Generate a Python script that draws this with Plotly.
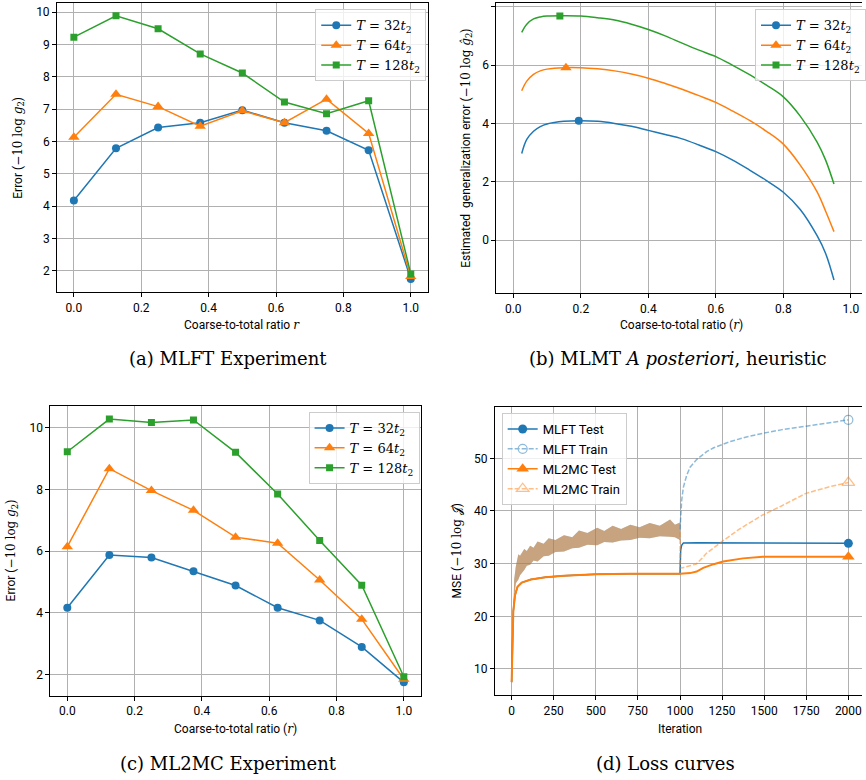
import plotly.graph_objects as go

BLUE = '#1f77b4'
ORANGE = '#ff7f0e'
GREEN = '#2ca02c'
W, H = 866, 780

# ---------------- (a) MLFT experiment ----------------
r_grid = [0.0, 0.125, 0.25, 0.375, 0.5, 0.625, 0.75, 0.875, 1.0]
mlft_32 = [4.17, 5.79, 6.43, 6.58, 6.97, 6.58, 6.33, 5.73, 1.74]
mlft_64 = [6.13, 7.46, 7.08, 6.47, 6.95, 6.58, 7.31, 6.25, 1.82]
mlft_128 = [9.23, 9.89, 9.49, 8.71, 8.12, 7.22, 6.86, 7.26, 1.90]

# ---------------- (b) MLMT a posteriori heuristic ----------------
r_est = [0.025, 0.04, 0.06, 0.08, 0.1, 0.15, 0.2, 0.25, 0.3, 0.35, 0.4, 0.45, 0.5,
         0.55, 0.6, 0.65, 0.7, 0.75, 0.8, 0.85, 0.9, 0.925, 0.95]
est_32 = [2.97, 3.45, 3.73, 3.89, 3.98, 4.07, 4.09, 4.07, 4.00, 3.90, 3.76, 3.62, 3.47,
          3.26, 3.03, 2.74, 2.40, 2.04, 1.64, 1.05, 0.15, -0.45, -1.37]
est_64 = [5.12, 5.45, 5.68, 5.80, 5.86, 5.91, 5.91, 5.87, 5.80, 5.69, 5.55, 5.37, 5.17,
          4.95, 4.72, 4.42, 4.10, 3.73, 3.29, 2.57, 1.65, 1.00, 0.29]
est_128 = [7.12, 7.40, 7.58, 7.65, 7.68, 7.69, 7.68, 7.62, 7.54, 7.40, 7.22, 7.00, 6.75,
           6.51, 6.29, 5.99, 5.67, 5.31, 4.91, 4.25, 3.36, 2.75, 1.92]
peak_r = [0.194, 0.156, 0.138]
peak_v = [4.09, 5.91, 7.68]

# ---------------- (c) ML2MC experiment ----------------
ml2mc_32 = [4.16, 5.87, 5.79, 5.34, 4.88, 4.16, 3.75, 2.89, 1.74]
ml2mc_64 = [6.14, 8.67, 7.96, 7.32, 6.45, 6.25, 5.06, 3.79, 1.84]
ml2mc_128 = [9.22, 10.28, 10.17, 10.25, 9.20, 7.85, 6.34, 4.89, 1.92]

# ---------------- (d) loss curves ----------------
it_test_a = [0, 5, 10, 20, 35, 60, 114, 200, 311, 500, 704, 1000]
test_a = [7.5, 16.0, 21.0, 24.0, 25.6, 26.4, 27.0, 27.4, 27.7, 28.0, 28.1, 28.1]
it_mlft_test_b = [1000, 1001, 1004, 1010, 1020, 1100, 1500, 2000]
mlft_test_b = [28.1, 30.5, 32.5, 33.5, 33.9, 33.95, 33.9, 33.86]
it_ml2mc_test_b = [1000, 1060, 1099, 1138, 1200, 1256, 1374, 1492, 1750, 2000]
ml2mc_test_b = [28.1, 28.2, 28.5, 29.2, 29.9, 30.4, 31.0, 31.3, 31.3, 31.3]

it_band = [0, 8, 15, 25, 40, 50, 75, 90, 110, 130, 154, 190, 220, 260, 311, 360, 400,
           450, 508, 550, 600, 650, 705, 760, 820, 880, 941, 970, 1000]
band_hi = [7.5, 22.0, 27.0, 29.5, 31.8, 31.5, 32.8, 32.4, 33.4, 33.0, 34.2, 33.8, 34.8,
           34.5, 35.4, 35.0, 36.3, 35.8, 36.8, 36.2, 37.2, 36.6, 37.4, 36.9, 37.7,
           37.2, 38.4, 37.4, 37.8]
band_lo = [7.5, 18.0, 23.5, 26.3, 27.0, 27.8, 28.8, 29.6, 29.8, 30.6, 30.4, 31.4, 31.5,
           32.2, 32.3, 32.9, 33.0, 33.6, 33.5, 34.1, 34.0, 34.4, 34.5, 34.9, 34.8,
           35.2, 35.1, 35.0, 34.5]

it_mlft_train = [1000, 1005, 1010, 1020, 1040, 1060, 1100, 1160, 1200, 1300, 1400,
                 1500, 1600, 1750, 1900, 2000]
mlft_train = [36.5, 39.0, 42.0, 44.5, 46.8, 48.3, 49.8, 51.3, 52.0, 53.2, 54.1,
              54.8, 55.4, 56.1, 56.9, 57.3]
it_ml2mc_train = [1000, 1001, 1018, 1050, 1097, 1130, 1157, 1200, 1235, 1350, 1491,
                  1600, 1748, 1900, 2000]
ml2mc_train = [36.0, 29.2, 29.24, 29.5, 29.94, 31.0, 31.96, 33.0, 33.86, 36.5,
               39.24, 40.9, 43.35, 44.7, 45.4]

SERIF = 'DejaVu Serif'
SANS = 'Roboto'


def math(s):
    return f"<span style='font-family:{SERIF}'>{s}</span>"


def tlabel(n):
    return f"<i>T</i> = {n}<i>t</i><sub>2</sub>"


MSIZE = {'circle': 8, 'triangle-up': 10, 'square': 7}

fig = go.Figure()

# (a)
for vals, col, sym, n in [(mlft_32, BLUE, 'circle', 32), (mlft_64, ORANGE, 'triangle-up', 64),
                          (mlft_128, GREEN, 'square', 128)]:
    fig.add_trace(go.Scatter(x=r_grid, y=vals, mode='lines+markers', xaxis='x', yaxis='y',
                             line=dict(color=col, width=1.5),
                             marker=dict(symbol=sym, size=MSIZE[sym], color=col),
                             name=tlabel(n), legend='legend'))

# (b)
for vals, col, sym, n, pr, pv in [(est_32, BLUE, 'circle', 32, peak_r[0], peak_v[0]),
                                  (est_64, ORANGE, 'triangle-up', 64, peak_r[1], peak_v[1]),
                                  (est_128, GREEN, 'square', 128, peak_r[2], peak_v[2])]:
    fig.add_trace(go.Scatter(x=r_est, y=vals, mode='lines', xaxis='x2', yaxis='y2',
                             line=dict(color=col, width=1.5, shape='spline', smoothing=1.0),
                             showlegend=False, legend='legend2'))
    fig.add_trace(go.Scatter(x=[pr], y=[pv], mode='lines+markers', xaxis='x2', yaxis='y2',
                             line=dict(color=col, width=1.5),
                             marker=dict(symbol=sym, size=MSIZE[sym], color=col),
                             name=tlabel(n), legend='legend2'))

# (c)
for vals, col, sym, n in [(ml2mc_32, BLUE, 'circle', 32), (ml2mc_64, ORANGE, 'triangle-up', 64),
                          (ml2mc_128, GREEN, 'square', 128)]:
    fig.add_trace(go.Scatter(x=r_grid, y=vals, mode='lines+markers', xaxis='x3', yaxis='y3',
                             line=dict(color=col, width=1.5),
                             marker=dict(symbol=sym, size=MSIZE[sym], color=col),
                             name=tlabel(n), legend='legend3'))


# (d)
def band_poly(xs, hi, lo):
    return list(xs) + list(xs)[::-1], list(hi) + list(lo)[::-1]


bx, by = band_poly(it_band, band_hi, band_lo)
# MLFT test
fig.add_trace(go.Scatter(x=it_test_a + it_mlft_test_b, y=test_a + mlft_test_b, mode='lines',
                         xaxis='x4', yaxis='y4', line=dict(color=BLUE, width=1.5),
                         showlegend=False, legend='legend4'))
fig.add_trace(go.Scatter(x=[it_mlft_test_b[-1]], y=[mlft_test_b[-1]], mode='lines+markers',
                         xaxis='x4', yaxis='y4', line=dict(color=BLUE, width=1.5),
                         marker=dict(symbol='circle', size=9, color=BLUE),
                         name='MLFT Test', legend='legend4'))
# MLFT train
fig.add_trace(go.Scatter(x=bx, y=by, fill='toself', mode='lines', xaxis='x4', yaxis='y4',
                         fillcolor='rgba(31,119,180,0.45)', line=dict(width=0),
                         showlegend=False, legend='legend4', hoverinfo='skip'))
fig.add_trace(go.Scatter(x=it_mlft_train, y=mlft_train, mode='lines', xaxis='x4', yaxis='y4',
                         line=dict(color=BLUE, width=1.5, dash='5px,2px'), opacity=0.5,
                         showlegend=False, legend='legend4'))
fig.add_trace(go.Scatter(x=[it_mlft_train[-1]], y=[mlft_train[-1]], mode='lines+markers',
                         xaxis='x4', yaxis='y4', opacity=0.5,
                         line=dict(color=BLUE, width=1.5, dash='5px,2px'),
                         marker=dict(symbol='circle-open', size=9, color=BLUE, line=dict(width=1.2)),
                         name='MLFT Train', legend='legend4'))
# ML2MC test
fig.add_trace(go.Scatter(x=it_test_a + it_ml2mc_test_b, y=test_a + ml2mc_test_b, mode='lines',
                         xaxis='x4', yaxis='y4', line=dict(color=ORANGE, width=2),
                         showlegend=False, legend='legend4'))
fig.add_trace(go.Scatter(x=[it_ml2mc_test_b[-1]], y=[ml2mc_test_b[-1]], mode='lines+markers',
                         xaxis='x4', yaxis='y4', line=dict(color=ORANGE, width=1.5),
                         marker=dict(symbol='triangle-up', size=11, color=ORANGE),
                         name='ML2MC Test', legend='legend4'))
# ML2MC train
fig.add_trace(go.Scatter(x=bx, y=by, fill='toself', mode='lines', xaxis='x4', yaxis='y4',
                         fillcolor='rgba(255,127,14,0.45)', line=dict(width=0),
                         showlegend=False, legend='legend4', hoverinfo='skip'))
fig.add_trace(go.Scatter(x=it_ml2mc_train, y=ml2mc_train, mode='lines', xaxis='x4', yaxis='y4',
                         line=dict(color=ORANGE, width=1.5, dash='5px,2px'), opacity=0.5,
                         showlegend=False, legend='legend4'))
fig.add_trace(go.Scatter(x=[it_ml2mc_train[-1]], y=[ml2mc_train[-1]], mode='lines+markers',
                         xaxis='x4', yaxis='y4', opacity=0.5,
                         line=dict(color=ORANGE, width=1.5, dash='5px,2px'),
                         marker=dict(symbol='triangle-up-open', size=11, color=ORANGE, line=dict(width=1.2)),
                         name='ML2MC Train', legend='legend4'))


def ax(domain, rng, anchor, **kw):
    d = dict(domain=domain, range=rng, anchor=anchor, showgrid=True, gridcolor='#b0b0b0',
             gridwidth=0.8, showline=True, linecolor='black', linewidth=1, mirror=True,
             ticks='outside', ticklen=4, tickwidth=0.8, tickcolor='black', zeroline=False,
             tickfont=dict(family=SANS, size=12, color='black'))
    d.update(kw)
    return d


def px(x):
    return x / W


def py(y):
    return 1 - y / H


ya_a = [py(292.3), py(2.6)]
ya_b = [py(293.2), py(2.6)]
ya_c = [py(695.6), py(405.8)]
ya_d = [py(695.3), py(406.7)]

legend_common = dict(bgcolor='rgba(255,255,255,0.8)', bordercolor='#cccccc', borderwidth=1,
                     xanchor='left', yanchor='top', tracegroupgap=0, itemwidth=30,
                     font=dict(family=SERIF, size=13, color='black'))

layout = dict(
    width=W, height=H, margin=dict(l=0, r=0, t=0, b=0),
    plot_bgcolor='white', paper_bgcolor='white',
    xaxis=ax([px(57.3), px(429.6)], [-0.05, 1.05], 'y', tickformat='.1f', dtick=0.2, tick0=0),
    yaxis=ax(ya_a, [1.33, 10.30], 'x', dtick=1),
    xaxis2=ax([px(498.7), 1.0], [-0.05, 1.033], 'y2', tickformat='.1f', dtick=0.2, tick0=0),
    yaxis2=ax(ya_b, [-1.82, 8.14], 'x2', dtick=2, mirror=False),
    xaxis3=ax([px(50.7), px(422.6)], [-0.05, 1.05], 'y3', tickformat='.1f', dtick=0.2, tick0=0),
    yaxis3=ax(ya_c, [1.31, 10.71], 'x3', dtick=2),
    xaxis4=ax([px(497.1), 1.0], [-100, 2081], 'y4', tickvals=[0, 250, 500, 750, 1000, 1250, 1500, 1750, 2000]),
    yaxis4=ax(ya_d, [5.0, 59.8], 'x4', dtick=10, mirror=False),
    legend=dict(legend_common, x=px(316.7), y=py(9.3)),
    legend2=dict(legend_common, x=px(758.7), y=py(9.3)),
    legend3=dict(legend_common, x=px(310), y=py(412)),
    legend4=dict(legend_common, x=px(504), y=py(413), font=dict(family=SANS, size=13, color='black')),
)
fig.update_layout(**layout)

ann = []


def add_text(x, y, text, size=12, family=SANS, angle=0):
    ann.append(dict(x=px(x), y=py(y), xref='paper', yref='paper', text=text, showarrow=False,
                    xanchor='center', yanchor='middle', textangle=angle,
                    font=dict(family=family, size=size, color='black')))


# axis titles
add_text(243.5, 325, "Coarse-to-total ratio " + math("<i>r</i>"))
add_text(18.3, 147.5, "Error (" + math("−10 log <i>g</i><sub>2</sub>") + ")", angle=-90)
add_text(684.5, 325, "Coarse-to-total ratio (" + math("<i>r</i>") + ")")
add_text(468.5, 148.5, "Estimated  generalization error (" + math("−10 log <i>ĝ</i><sub>2</sub>") + ")", angle=-90)
add_text(236.7, 729, "Coarse-to-total ratio (" + math("<i>r</i>") + ")")
add_text(12.5, 550, "Error (" + math("−10 log <i>g</i><sub>2</sub>") + ")", angle=-90)
add_text(683, 729, "Iteration")
add_text(459, 550.5, "MSE (" + math("−10 log 𝒥") + ")", angle=-90)

# captions
add_text(229.5, 359, "(a) MLFT Experiment", size=18, family=SERIF)
add_text(681.5, 359, "(b) MLMT <i>A posteriori</i>, heuristic", size=18, family=SERIF)
add_text(230, 763, "(c) ML2MC Experiment", size=18, family=SERIF)
add_text(668.5, 763, "(d) Loss curves", size=18, family=SERIF)

fig.update_layout(annotations=ann)
fig.write_html("out.html")
